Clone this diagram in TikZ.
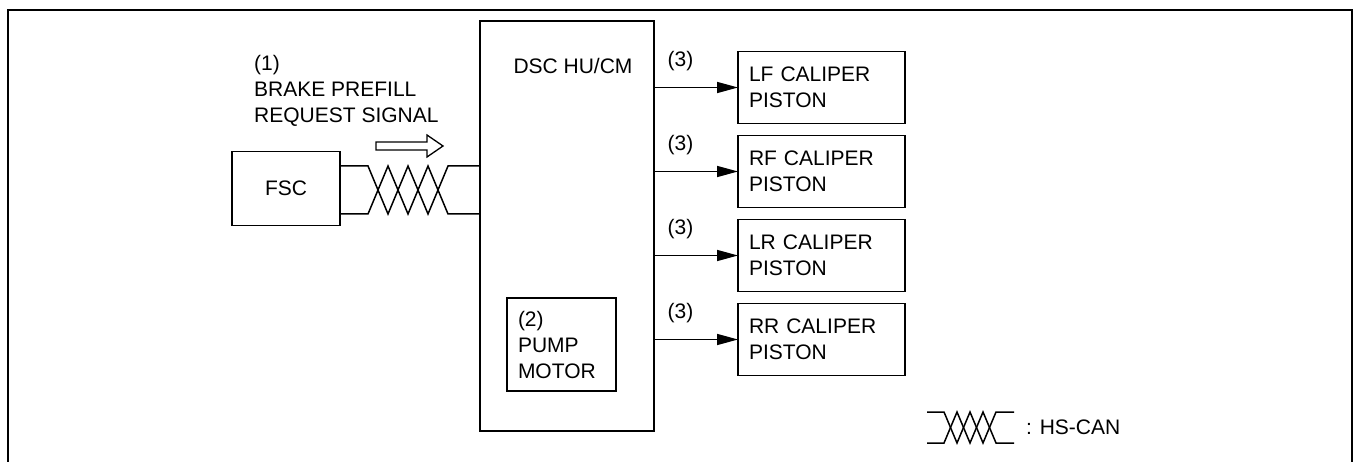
\documentclass[tikz,border=0pt]{standalone}
\usepackage{fontspec}
\setmainfont{Liberation Sans}
\usetikzlibrary{arrows.meta,positioning}

\begin{document}
\begin{tikzpicture}[
  x=1pt,y=-1pt,
  node distance=12pt,
  every node/.style={font=\fontsize{21pt}{26pt}\selectfont},
  block/.style={rectangle,draw,line width=1.5pt,inner sep=0pt,outer sep=0pt},
  capbox/.style={block,align=left,inner xsep=11pt,text width=145pt,minimum width=167pt,minimum height=72pt},
  num/.style={above=16pt,inner sep=0pt},
  wire/.style={line width=1.5pt},
  line/.style={line width=1.5pt,-{Triangle[length=21pt,width=11pt]}}]
\useasboundingbox (0,0) rectangle (1355,462);
% frame
\draw[wire] (8,462) |- (1352,10) -- (1352,462);
% units
\node[block,minimum width=108pt,minimum height=74pt] (fsc) at (286,188.5) {FSC};
\node[block,minimum width=174pt,minimum height=410pt] (dsc) at (567,226) {};
\node[inner sep=0pt] (dsclab) at (573,66) {DSC HU/CM};
\node[block,align=left,inner xsep=11pt,text width=87pt,minimum width=109pt,minimum height=93pt] (pump) at (561.5,344.5) {(2)\\PUMP\\MOTOR};
\node[capbox] (lf) at (821.5,87.5) {LF CALIPER\\PISTON};
\node[capbox,below=of lf] (rf) {RF CALIPER\\PISTON};
\node[capbox,below=of rf] (lr) {LR CALIPER\\PISTON};
\node[capbox,below=of lr] (rr) {RR CALIPER\\PISTON};
% request signal
\node[align=left,inner sep=0pt,anchor=north west] (req) at (254,55) {(1)\\BRAKE PREFILL\\REQUEST SIGNAL};
\draw[line width=1.3pt] (376,142) -- (427,142) -- (427,135) -- (443,146) -- (427,157) -- (427,150) -- (376,150) -- cycle;
% HS-CAN pair
\coordinate (twa) at (368,166);
\coordinate (twb) at (368,214);
\draw[wire] (fsc.east |- twa) -- (twa) -- ++(20,48) -- ++(20,-48) -- ++(20,48) -- ++(20,-48) -- (dsc.west |- twa);
\draw[wire] (fsc.east |- twb) -- (twb) -- ++(20,-48) -- ++(20,48) -- ++(20,-48) -- ++(20,48) -- (dsc.west |- twb);
% outputs
\foreach \n in {lf,rf,lr,rr}
  \draw[line] (dsc.east |- \n) -- node[num,pos=0.315] (lab\n) {(3)} (\n);
% legend
\coordinate (lga) at (944,412);
\coordinate (lgb) at (944,443);
\draw[wire] (927,412) -- (lga) -- ++(13,31) -- ++(13,-31) -- ++(13,31) -- ++(13,-31) -- ++(18,0);
\draw[wire] (927,443) -- (lgb) -- ++(13,-31) -- ++(13,31) -- ++(13,-31) -- ++(13,31) -- ++(18,0);
\node[anchor=west,inner sep=0pt] (hscan) at (1026,427) {: HS-CAN};
\end{tikzpicture}
\end{document}
